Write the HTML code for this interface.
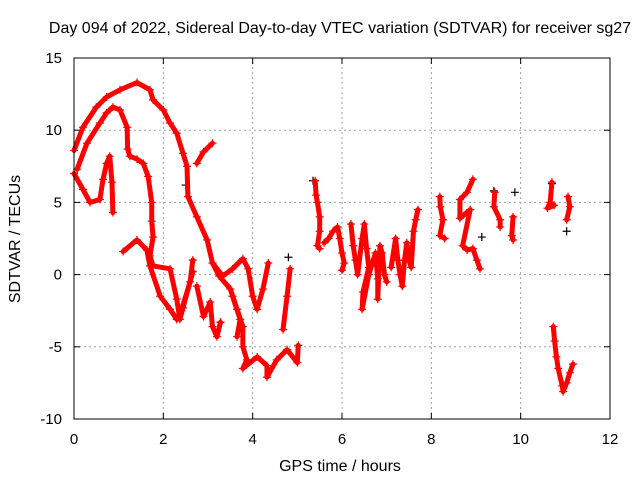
<!DOCTYPE html>
<html><head><meta charset="utf-8"><style>
body{margin:0;background:#fff;}
svg{display:block;font-family:"Liberation Sans",sans-serif;}
</style></head><body>
<svg id="chart" width="640" height="480">
<text x="340" y="33" text-anchor="middle" font-size="16">Day 094 of 2022, Sidereal Day-to-day VTEC variation (SDTVAR) for receiver sg27</text>
<text x="340" y="471" text-anchor="middle" font-size="16">GPS time / hours</text>
<text transform="translate(20,239) rotate(-90)" text-anchor="middle" font-size="16">SDTVAR / TECUs</text>
<g id="grid"></g><g id="ticks"></g><g id="marks"></g>
<rect x="74" y="58" width="536" height="361" fill="none" stroke="#000" stroke-width="1"/>
</svg>
<script>
const xTicks=[0,2,4,6,8,10,12];
const yTicks=[-10,-5,0,5,10,15];
// red tracks: [t, v] pairs
const trackArchUpper=[[0,8.6],[0.2,10.2],[0.5,11.6],[0.73,12.3],[1.03,12.8],[1.41,13.3],[1.7,12.8],[1.77,12.1],[2.0,11.4],[2.15,10.5],[2.3,9.8],[2.44,8.4],[2.53,7.5],[2.55,5.4],[2.75,4.0],[2.98,2.4],[3.1,0.8],[3.25,-0.1],[3.5,-1],[3.65,-2.4],[3.78,-3.6],[3.78,-5],[3.87,-5.9],[3.78,-6.5],[4.1,-5.7],[4.32,-6.3],[4.32,-7.1],[4.54,-5.9],[4.77,-5.2],[5.0,-6.1],[5.02,-4.9]];
const trackArchInner=[[0.07,7.3],[0.29,9.1],[0.58,10.5],[0.73,11.2],[0.87,11.6],[1.03,11.4],[1.19,10.2],[1.2,8.7],[1.25,8.2],[1.41,8],[1.55,7.7],[1.66,6.8],[1.74,5.0],[1.74,3.7],[1.77,2.6],[1.7,1.3],[1.77,0.6],[2.15,0.4],[2.3,-1.7],[2.37,-3.1],[2.44,-2.3],[2.66,0.2]];
const trackLoop=[[0,7],[0.2,5.9],[0.36,5.0],[0.58,5.2],[0.65,6.6],[0.73,7.7],[0.8,8.2],[0.85,6.4],[0.87,4.3]];
const trackLow=[[1.1,1.6],[1.41,2.4],[1.63,1.7],[1.7,0.6],[1.93,-1.5],[2.15,-2.4],[2.3,-3.1],[2.4,-2.5],[2.6,-0.5],[2.66,1]];
const trackE=[[2.75,-0.8],[2.9,-2.9],[3.05,-1.9],[3.1,-3.6],[3.2,-4.3],[3.28,-3.3]];
const trackF=[[3.1,0.8],[3.33,-0.1],[3.55,0.4],[3.78,1.1],[3.9,0.4],[4.0,-1.5],[4.1,-2.4],[4.23,-1],[4.35,0.8]];
const trackG=[[3.55,-1.5],[3.72,-3.1],[3.65,-4.3]];
const trackH=[[4.68,-3.8],[4.77,-1.5],[4.84,0.4]];
const trackI=[[2.75,7.7],[2.9,8.5],[3.1,9.1]];
const trackR1=[[5.4,6.5],[5.42,5.5],[5.45,5],[5.5,4],[5.5,3],[5.45,2],[5.5,1.8]];
const trackR2=[[5.6,2.2],[5.7,2.5],[5.8,3],[5.9,3.3],[5.95,2.5],[6.0,1.5],[6.05,0.8],[6.0,0.3]];
const trackR3=[[6.2,3.5],[6.25,2],[6.3,1],[6.35,0],[6.45,2.5],[6.5,3.5],[6.55,1.8],[6.6,0.5],[6.47,-1.2],[6.45,-2.4],[6.6,0],[6.75,1.5],[6.8,-0.3],[6.8,-1.7],[6.85,2],[6.9,1.5],[6.95,0],[7.0,-0.5]];
const trackR4=[[7.1,0.5],[7.2,2.5],[7.25,1],[7.3,0],[7.35,-0.8],[7.4,1],[7.45,2.2],[7.5,1],[7.55,0.5],[7.6,3],[7.65,3.8],[7.7,4.5]];
const trackR5=[[8.19,5.4],[8.2,4.7],[8.26,3.8],[8.19,2.7],[8.3,2.5]];
const trackR6=[[8.93,6.6],[8.8,5.7],[8.64,5.2],[8.64,3.9],[8.87,4.5],[8.7,2],[8.8,1.7],[8.93,1.8],[9.02,1],[9.09,0.4]];
const trackR7=[[9.42,5.7],[9.4,4.7],[9.54,3.8],[9.54,3.3]];
const trackR7b=[[9.83,4.0],[9.8,2.7],[9.83,2.4]];
const trackR8=[[10.7,6.4],[10.66,5],[10.6,4.6],[10.75,4.8]];
const trackR8b=[[11.06,5.4],[11.1,4.7],[11.03,3.8]];
const trackR9=[[10.73,-3.6],[10.76,-4.6],[10.8,-5.7],[10.84,-6.5],[10.93,-7.7],[10.95,-8.1],[11.03,-7.5],[11.1,-6.8],[11.17,-6.2]];
const blackPoints=[[2.5,6.2],[5.35,6.5],[4.8,1.2],[9.13,2.6],[9.4,5.8],[9.87,5.7],[10.7,6.3],[11.03,3.0],[3.28,-3.3]];
const tracks=[trackArchUpper,trackArchInner,trackLoop,trackLow,trackE,trackF,trackG,trackH,trackI,trackR1,trackR2,trackR3,trackR4,trackR5,trackR6,trackR7,trackR7b,trackR8,trackR8b,trackR9];

const X0=74,X1=610,Y0=419,Y1=58;
function xs(t){return X0+(t-0)/(12-0)*(X1-X0);}
function ys(v){return Y0-(v+10)/(25)*(Y0-Y1);}
const NS="http://www.w3.org/2000/svg";
function mk(tag,attrs,parent){const e=document.createElementNS(NS,tag);for(const k in attrs)e.setAttribute(k,attrs[k]);parent.appendChild(e);return e;}
const grid=document.getElementById('grid'),ticks=document.getElementById('ticks'),marks=document.getElementById('marks');
xTicks.forEach(t=>{const x=xs(t);
 if(t>0&&t<12){const g=mk('line',{x1:x,x2:x,y1:Y0,y2:Y1,stroke:'#a0a0a0','stroke-dasharray':'2,3'},grid);
 
 }
 mk('line',{x1:x,x2:x,y1:Y0,y2:Y0-6,stroke:'#000'},ticks);
 mk('line',{x1:x,x2:x,y1:Y1,y2:Y1+6,stroke:'#000'},ticks);
 const l=mk('text',{x:x,y:444,'text-anchor':'middle','font-size':15},ticks);l.textContent=t;
 
 });
yTicks.forEach(v=>{const y=ys(v);
 if(v>-10&&v<15){const g=mk('line',{x1:X0,x2:X1,y1:y,y2:y,stroke:'#a0a0a0','stroke-dasharray':'2,3'},grid);
 
 }
 mk('line',{x1:X0,x2:X0+6,y1:y,y2:y,stroke:'#000'},ticks);
 mk('line',{x1:X1,x2:X1-6,y1:y,y2:y,stroke:'#000'},ticks);
 const l=mk('text',{x:62,y:y+5,'text-anchor':'end','font-size':15},ticks);l.textContent=v;
 
 });
function plus(t,v,col,name){const x=xs(t),y=ys(v);
 const p=mk('path',{d:`M${x-4},${y}H${x+4}M${x},${y-4}V${y+4}`,stroke:col,'stroke-width':1.2,fill:'none'},marks);
 
 }
blackPoints.forEach(p=>plus(p[0],p[1],'#000','black-point'));
tracks.forEach(tr=>{
 const pl=mk('polyline',{points:tr.map(p=>xs(p[0])+','+ys(p[1])).join(' '),fill:'none',stroke:'#ff0000','stroke-width':5,'stroke-linejoin':'round','stroke-linecap':'round'},marks);
 
 
 tr.forEach(p=>plus(p[0],p[1],'#ff0000','sdtvar-point'));
});
</script>
</body></html>
